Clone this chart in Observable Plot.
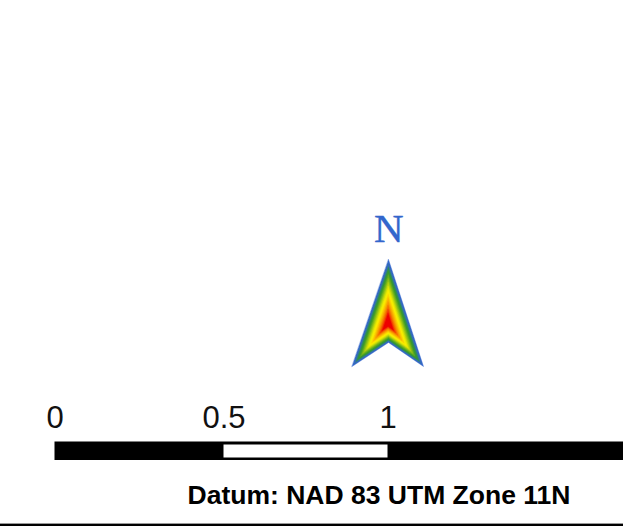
<!DOCTYPE html>
<html><head><meta charset="utf-8">
<style>html,body{margin:0;padding:0;background:#fff}svg{display:block}</style>
<script src="https://cdn.jsdelivr.net/npm/d3@7"></script>
<script src="https://cdn.jsdelivr.net/npm/@observablehq/plot@0.6"></script>
</head><body><div id="c"></div>
<script>
// Scale bar, in map units
const barExtent = [0, 1.71];
const whiteSegment = [0.5, 1];
const tickValues = [0, 0.5, 1];
const tickLabels = ["0", "0.5", "1"];
const note = "Datum: NAD 83 UTM Zone 11N";
// North arrow outline (tip, right, notch, left) in picture units, shrinking toward its centre
const arrowX = [388, 423, 388, 351.5];
const arrowY = [259, 366, 342, 366];
const centre = [387.5, 323];
const levels = [1, 0.94, 0.88, 0.82, 0.76, 0.7, 0.64, 0.58, 0.52, 0.46, 0.4, 0.34, 0.28, 0.22, 0.16];
const levelColors = ["#3366cc","#3470b0","#2f8f50","#3a9a2a","#62ac1e","#8fc015","#bcd40c","#e6e803","#fbee00","#fbd400","#f9b400","#f79400","#f56c00","#f23c00","#ee0000"];

const arrow = levels.flatMap((s, i) => arrowX.map((x, k) => ({
  level: i, color: levelColors[i],
  x: centre[0] + (x - centre[0]) * s,
  y: centre[1] + (arrowY[k] - centre[1]) * s
})));
// map units to picture units
const km = d3.scaleLinear().domain([0, 0.5, 1, 1.71]).range([54.5, 223.5, 387.5, 623]);

const chart = Plot.plot({
  width: 623, height: 526, margin: 0,
  x: {type: "linear", domain: [0, 623], range: [0, 623], axis: null},
  y: {type: "linear", domain: [0, 526], range: [0, 526], axis: null},
  color: {type: "identity"},
  style: {background: "#fff"},
  marks: [
    Plot.line(arrow, {x: "x", y: "y", z: "level", fill: "color", stroke: "color", strokeWidth: 0.4, curve: "linear-closed"}),
    Plot.text(["N"], {x: [388.3], y: [228.5], text: d => d, fontFamily: "Liberation Serif", fontSize: 41, fill: "#3366cc", stroke: "#3366cc", strokeWidth: 0.4}),
    Plot.rect([barExtent], {x1: d => km(d[0]), x2: d => km(d[1]), y1: [441.5], y2: [460], fill: "#000"}),
    Plot.rect([whiteSegment], {x1: d => km(d[0]), x2: d => km(d[1]), y1: [444.5], y2: [457.5], fill: "#fff"}),
    Plot.text(tickValues, {x: d => km(d), y: [417.5, 417.5, 417.5], text: (d, i) => tickLabels[i], fontFamily: "Liberation Sans", fontSize: 31, fill: "#111"}),
    Plot.text([note], {x: [378.5], y: [495.5], text: d => d, fontFamily: "Liberation Sans", fontWeight: "bold", fontSize: 26.5, fill: "#000"}),
    Plot.rect([0], {x1: [0], x2: [623], y1: [523], y2: [524], fill: "#999"}),
    Plot.rect([0], {x1: [0], x2: [623], y1: [524], y2: [526], fill: "#000"})
  ]
});
document.getElementById("c").append(chart);
</script></body></html>
